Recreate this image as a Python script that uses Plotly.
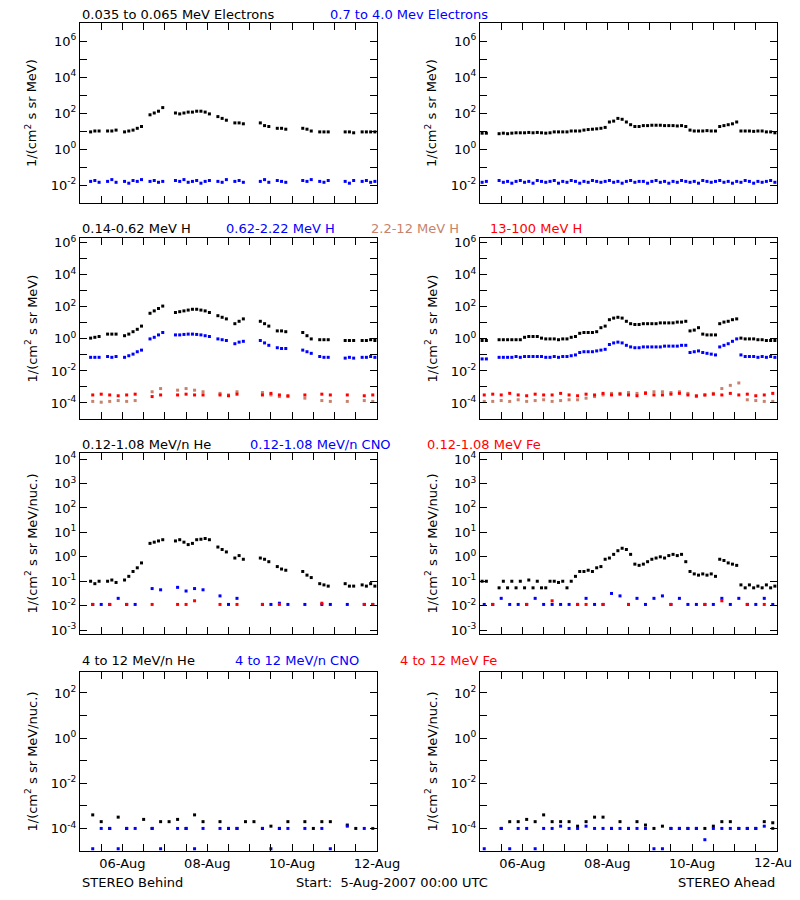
import plotly.graph_objects as go

N = None
# ---- data: log10 flux values; time grid 0.1 day (fine) or 0.2 day (coarse), days since 5-Aug-2007 00:00
# Row 1 electrons
L1_k = [N,N,0.95,1.0,1.0,N,1.0,1.0,1.05,N,
        0.95,1.0,1.05,1.15,1.25,N,1.9,2.0,2.1,2.3,
        N,N,2.0,1.95,2.0,2.05,2.05,2.1,2.1,2.05,
        1.95,N,1.8,1.7,1.6,N,1.45,1.45,1.4,N,
        N,N,1.45,1.3,1.25,N,1.15,1.15,1.1,N,
        N,N,1.15,1.1,1.0,N,0.95,0.95,0.95,N,
        N,N,0.95,0.95,0.9,N,0.95,0.95,0.95,0.95]
L1_b = [N,N,-1.8,-1.75,-1.85,N,-1.8,-1.7,-1.85,N,
        -1.8,-1.9,-1.75,-1.8,-1.7,N,-1.8,-1.75,-1.85,-1.8,
        N,N,-1.75,-1.8,-1.7,-1.85,-1.8,-1.75,-1.9,-1.8,
        -1.75,N,-1.8,-1.85,-1.7,N,-1.8,-1.75,-1.85,N,
        N,N,-1.8,-1.7,-1.85,N,-1.75,-1.8,-1.85,N,
        N,N,-1.75,-1.8,-1.7,N,-1.8,-1.85,-1.75,N,
        N,N,-1.8,-1.9,-1.75,N,-1.8,-1.75,-1.85,-1.8]
R1_k = [.88,.88,N,N,.85,.88,.85,.88,.9,.9,
        .9,.92,.9,.92,.9,.88,.9,.95,.95,.95,
        .95,1.0,1.0,1.0,1.05,1.08,1.1,1.12,1.15,1.2,
        1.5,1.55,1.7,1.65,1.5,1.35,1.25,1.25,1.3,1.3,
        1.32,1.32,1.32,1.3,1.3,1.3,1.28,1.3,1.25,1.05,
        1.0,1.0,1.0,1.02,1.0,1.0,1.25,1.3,1.35,1.4,
        1.5,1.0,1.0,1.0,0.98,1.0,1.0,0.95,0.95,0.9]
R1_b = [-1.85,-1.8,N,N,-1.75,-1.85,-1.8,-1.9,-1.8,-1.75,
        -1.85,-1.8,-1.9,-1.75,-1.8,-1.85,-1.8,-1.75,-1.9,-1.8,
        -1.85,-1.75,-1.8,-1.9,-1.8,-1.85,-1.75,-1.8,-1.85,-1.8,
        -1.75,-1.85,-1.8,-1.9,-1.8,-1.75,-1.85,-1.8,-1.8,-1.9,
        -1.8,-1.75,-1.85,-1.8,-1.9,-1.8,-1.85,-1.75,-1.8,-1.85,
        -1.8,-1.9,-1.75,-1.8,-1.85,-1.8,-1.75,-1.85,-1.8,-1.9,
        -1.8,-1.85,-1.75,-1.8,-1.9,-1.8,-1.85,-1.8,-1.75,-1.85]
# Row 2 protons
L2_k = [N,N,0.05,0.1,0.15,N,0.3,0.3,0.3,N,
        0.2,0.3,0.45,0.6,0.8,N,1.6,1.75,1.9,2.05,
        N,N,1.65,1.7,1.75,1.8,1.85,1.85,1.8,1.75,
        1.65,N,1.45,1.35,1.25,N,0.95,1.1,1.25,N,
        N,N,1.1,0.95,0.8,N,0.5,0.5,0.45,N,
        N,N,0.4,0.2,0.0,N,-0.05,-0.05,-0.05,N,
        N,N,-0.1,-0.1,-0.1,N,-0.1,-0.1,-0.05,-0.1]
L2_b = [N,N,-1.15,-1.15,-1.15,N,-1.1,-1.15,-1.1,N,
        -1.15,-1.05,-0.95,-0.8,-0.7,N,0.0,0.1,0.25,0.4,
        N,N,0.25,0.25,0.28,0.3,0.3,0.28,0.25,0.2,
        0.15,N,0.0,-0.05,-0.1,N,-0.3,-0.2,-0.15,N,
        N,N,-0.1,-0.25,-0.4,N,-0.55,-0.6,-0.6,N,
        N,N,-0.7,-0.8,-0.9,N,-1.1,-1.15,-1.15,N,
        N,N,-1.2,-1.15,-1.2,N,-1.15,-1.15,-1.1,-1.15]
R2_k = [-0.1,-0.1,N,N,-0.05,-0.05,-0.05,-0.05,-0.05,-0.05,
        0.1,0.15,0.15,0.15,0.05,0.0,0.0,0.0,-0.05,0.0,
        0.0,0.1,0.15,0.35,0.4,0.4,0.4,0.45,0.7,0.8,
        1.2,1.3,1.35,1.3,1.1,0.95,0.9,0.9,0.95,0.95,
        0.95,0.95,1.0,1.0,1.0,1.0,1.05,1.05,1.1,0.5,
        0.55,0.7,0.3,0.25,0.25,0.25,0.95,1.05,1.1,1.2,
        1.25,0.05,0.0,0.0,0.0,-0.05,-0.05,-0.1,-0.1,-0.1]
R2_b = [-1.25,-1.25,N,N,-1.15,-1.15,-1.15,-1.15,-1.1,-1.15,
        -1.1,-1.1,-1.1,-1.1,-1.1,-1.15,-1.15,-1.1,-1.15,-1.1,
        -1.1,-1.05,-1.0,-0.85,-0.8,-0.8,-0.8,-0.75,-0.7,-0.65,
        -0.35,-0.25,-0.2,-0.25,-0.4,-0.5,-0.55,-0.55,-0.5,-0.5,
        -0.5,-0.5,-0.5,-0.45,-0.45,-0.45,-0.45,-0.4,-0.4,-0.85,
        -0.8,-0.75,-0.85,-0.9,-0.95,-1.0,-0.5,-0.4,-0.3,-0.15,
        0.0,-1.0,-1.1,-1.1,-1.1,-1.15,-1.1,-1.15,-1.1,-1.15]
L2_t = [N,-3.9,-3.95,-3.9,-3.85,-3.9,-3.85,N,-3.3,-3.1,N,-3.2,-3.1,-3.2,-3.3,N,-3.4,-3.5,
        -3.3,N,N,-3.35,-3.5,-3.6,-3.6,N,-3.7,N,-3.85,-3.9,N,-3.9,N,-3.85,-3.9]
L2_r = [N,-3.5,-3.45,-3.5,-3.55,-3.5,-3.45,N,-3.6,-3.5,N,-3.5,-3.45,-3.5,-3.5,N,-3.5,-3.55,
        -3.45,N,N,-3.5,-3.4,-3.5,-3.55,N,-3.5,N,-3.45,-3.5,N,-3.5,N,-3.55,-3.5]
R2_t = [-3.9,-3.9,-3.85,-3.9,-3.8,-3.9,-3.85,-3.8,-3.9,-3.85,-3.8,-3.8,-3.7,-3.6,-3.5,-3.4,-3.4,
        -3.35,-3.4,-3.35,-3.3,-3.3,-3.35,-3.3,-3.4,-3.6,-3.5,-3.4,-3.1,-2.9,-2.75,-3.8,-3.85,-3.9,-3.9]
R2_r = [-3.5,-3.45,-3.5,-3.4,-3.5,-3.55,-3.45,-3.5,-3.5,-3.4,-3.5,-3.55,-3.45,-3.5,-3.4,-3.5,-3.45,
        -3.5,-3.55,-3.4,-3.5,-3.5,-3.45,-3.4,-3.5,-3.55,-3.5,-3.45,-3.5,-3.4,-3.5,-3.45,-3.55,-3.5,-3.4]
# Row 3 heavy ions, 0.12-1.08 MeV/n
L3_k = [N,N,-1.0,-1.1,-1.0,N,-1.0,-0.95,-1.05,N,
        -0.95,-0.8,-0.6,-0.45,-0.25,N,0.55,0.6,0.65,0.7,
        N,N,0.65,0.7,0.6,0.5,0.55,0.7,0.72,0.75,
        0.7,N,0.4,0.3,0.2,N,-0.05,0.05,-0.1,N,
        N,N,-0.05,-0.1,-0.2,N,-0.4,-0.5,-0.55,N,
        N,N,-0.6,-0.75,-0.85,N,-1.1,-1.15,-1.2,N,
        N,N,-1.1,-1.2,-1.2,N,-1.15,-1.2,-1.1,-1.2]
L3_b = [N,-1.95,-1.95,-1.95,-1.7,-1.95,-1.95,N,-1.3,-1.35,N,-1.25,-1.4,-1.3,-1.35,N,-1.6,-1.95,
        -1.7,N,N,-1.95,-1.95,-1.9,-1.95,N,-1.95,N,-1.95,-1.95,N,-1.95,N,-1.95,-1.95]
L3_r = [N,-1.95,N,-1.95,N,-1.95,N,N,-1.95,N,N,-1.95,-1.95,-1.8,N,N,-1.95,N,-1.95,N,N,-1.95,N,
        -1.95,N,N,N,N,-1.9,N,N,N,N,-1.95,-1.95]
R3_k = [-1.0,-1.0,N,N,-1.27,-1.0,-1.27,-1.0,-1.27,-1.0,
        -1.27,-0.95,-1.27,-1.0,-1.27,-1.27,-1.0,-1.0,-1.05,-1.0,
        -1.27,-1.0,-0.8,-0.6,-0.6,-0.55,-0.6,-0.45,-0.4,-0.1,
        -0.05,0.1,0.25,0.35,0.3,0.1,-0.3,-0.35,-0.3,-0.2,
        -0.1,-0.05,0.0,-0.05,0.05,0.1,0.05,0.1,-0.2,-0.6,
        -0.7,-0.75,-0.7,-0.75,-0.7,-0.8,-0.1,-0.15,-0.25,-0.3,
        -0.35,-1.15,-1.27,-1.15,-1.27,-1.2,-1.27,-1.15,-1.27,-1.2]
R3_b = [-1.95,-1.95,-1.7,-1.95,-1.95,-1.95,-1.7,-1.95,-1.95,-1.95,-1.95,-1.95,-1.7,-1.95,-1.95,
        -1.5,-1.6,-1.95,-1.7,-1.95,-1.7,-1.6,-1.95,-1.7,-1.95,-1.95,-1.95,-1.95,-1.7,-1.95,-1.7,
        -1.95,-1.95,-1.7,-1.95]
R3_r = [N,-1.95,N,N,N,-1.95,N,N,-1.8,N,N,-1.95,-1.95,N,-1.95,N,N,-1.95,N,N,N,N,-1.95,N,N,N,
        -1.95,N,-1.8,N,N,-1.95,N,-1.95,N]
# Row 4, 4-12 MeV/n
L4_k = [N,-3.4,-3.7,-4.0,-3.5,-4.0,N,-3.6,-4.0,-3.7,-3.7,-3.6,-4.0,-3.4,-3.7,N,-3.7,-4.0,-4.0,
        -3.7,-3.7,-4.0,-3.9,-4.0,-3.7,N,-3.7,-4.0,-3.7,-3.7,N,-3.85,-4.0,N,N]
L4_b = [N,-4.9,-4.0,-4.0,-4.9,-4.0,-4.0,N,-4.0,-4.9,N,-4.0,-4.0,-4.9,-4.0,N,-4.0,-4.0,-4.0,N,N,
        -4.0,-4.9,-4.0,-4.0,N,-4.0,N,-4.0,-4.9,N,-3.9,N,-4.0,-4.0]
R4_k = [N,N,-4.0,-3.7,-3.7,-3.6,-3.7,-3.4,-3.7,-3.7,-3.7,-3.9,-3.7,-3.5,-3.5,-4.0,-3.7,-4.0,
        -3.7,-3.85,-4.0,-3.9,-4.0,-4.0,-4.0,-4.0,-4.0,-3.9,-3.7,-3.7,-4.0,-4.0,-4.0,-3.7,-3.75]
R4_b = [-4.9,N,-4.0,-4.9,-4.0,-4.0,-4.9,-4.0,-4.0,-3.9,-4.0,-4.0,-3.9,-4.0,-4.0,-4.0,-4.0,-4.0,
        -4.0,-4.0,-4.9,-4.9,-4.0,-4.0,-4.0,-4.0,-4.5,-4.0,-4.0,-4.0,-4.0,-4.0,-4.0,-3.9,-4.0]

X_TICKS = [1, 3, 5, 7]
X_LABELS = ["06-Aug", "08-Aug", "10-Aug", "12-Aug"]

BLUE, TAN, RED, BLK = "#0000ff", "#c8826c", "#ff0000", "#000000"
OFF = 8                      # page body margin of the html page
W, H = 800 - 2 * OFF, 900 - 2 * OFF
FONT = "DejaVu Sans"

def px(v):
    return v - OFF

fig = go.Figure()

rows = [  # (y top px, y bottom px, log range, label every decade?)
    (23, 203, [-3, 7], False),
    (238, 419, [-5, 6.3], False),
    (453, 634, [-3.16, 4.25], True),
    (672, 851, [-5, 2.93], False),
]
cols = [(80, 377), (480, 777)]

series = [
    (0, 0, L1_k, 0.1, BLK), (0, 0, L1_b, 0.1, BLUE),
    (0, 1, R1_k, 0.1, BLK), (0, 1, R1_b, 0.1, BLUE),
    (1, 0, L2_t, 0.2, TAN), (1, 0, L2_r, 0.2, RED), (1, 0, L2_k, 0.1, BLK), (1, 0, L2_b, 0.1, BLUE),
    (1, 1, R2_t, 0.2, TAN), (1, 1, R2_r, 0.2, RED), (1, 1, R2_k, 0.1, BLK), (1, 1, R2_b, 0.1, BLUE),
    (2, 0, L3_k, 0.1, BLK), (2, 0, L3_b, 0.2, BLUE), (2, 0, L3_r, 0.2, RED),
    (2, 1, R3_k, 0.1, BLK), (2, 1, R3_b, 0.2, BLUE), (2, 1, R3_r, 0.2, RED),
    (3, 0, L4_k, 0.2, BLK), (3, 0, L4_b, 0.2, BLUE),
    (3, 1, R4_k, 0.2, BLK), (3, 1, R4_b, 0.2, BLUE),
]

def axname(r, c):
    n = r * 2 + c + 1
    return ("x" if n == 1 else f"x{n}"), ("y" if n == 1 else f"y{n}")

for r, c, vals, step, col in series:
    xa, ya = axname(r, c)
    xs = [step / 2 + step * i for i in range(len(vals))]
    ys = [None if v is None else 10 ** v for v in vals]
    fig.add_trace(go.Scatter(x=xs, y=ys, mode="markers", xaxis=xa, yaxis=ya,
                             marker=dict(symbol="square", size=3, color=col, line=dict(width=0)),
                             showlegend=False, hoverinfo="skip"))

def sup(n):
    return f"10<sup>{n}</sup>"

for r, (yt, yb, rng, every) in enumerate(rows):
    for c, (xl, xr) in enumerate(cols):
        n = r * 2 + c + 1
        sfx = "" if n == 1 else str(n)
        lo, hi = int(rng[0]) - 1, int(rng[1]) + 1
        dec = [d for d in range(lo, hi + 1) if rng[0] <= d <= rng[1]]
        common = dict(showgrid=False, zeroline=False, showline=True, linecolor="black",
                      linewidth=1, mirror="ticks", ticks="inside", ticklen=7, automargin=False,
                      tickcolor="black", tickfont=dict(family=FONT, size=13, color="black"))
        fig.layout["xaxis" + sfx] = dict(
            domain=[px(xl) / W, px(xr) / W], range=[0, 7], anchor="y" + sfx,
            tickvals=[i * 0.5 for i in range(15)],
            ticktext=[(X_LABELS[X_TICKS.index(int(i * 0.5))] if (r == 3 and i % 2 == 0 and int(i * 0.5) in X_TICKS) else "") for i in range(15)],
            **common)
        fig.layout["yaxis" + sfx] = dict(
            domain=[1 - px(yb) / H, 1 - px(yt) / H], type="log", range=rng, anchor="x" + sfx,
            tickvals=[10 ** d for d in dec],
            ticktext=[sup(d) if (every or d % 2 == 0) else "" for d in dec],
            **common)

ann = []
def txt(x, y, s, color="black", size=13, xanchor="left"):
    ann.append(dict(x=px(x) / W, y=1 - px(y) / H, xref="paper", yref="paper", text=s, showarrow=False,
                    font=dict(family=FONT, size=size, color=color), xanchor=xanchor,
                    yanchor="middle"))

titles = [
    (15, [(80, "0.035 to 0.065 MeV Electrons", BLK), (328, "0.7 to 4.0 Mev Electrons", BLUE)]),
    (228, [(80, "0.14-0.62 MeV H", BLK), (224, "0.62-2.22 MeV H", BLUE), (369, "2.2-12 MeV H", TAN), (488, "13-100 MeV H", RED)]),
    (444, [(80, "0.12-1.08 MeV/n He", BLK), (248, "0.12-1.08 MeV/n CNO", BLUE), (425, "0.12-1.08 MeV Fe", RED)]),
    (660, [(80, "4 to 12 MeV/n He", BLK), (233, "4 to 12 MeV/n CNO", BLUE), (398, "4 to 12 MeV Fe", RED)]),
]
for y, items in titles:
    for x, s, col in items:
        txt(x, y, s, col)

ylabs = ["1/(cm<sup>2</sup> s sr MeV)"] * 2 + ["1/(cm<sup>2</sup> s sr MeV/nuc.)"] * 2
for (yt, yb, _, _), lab in zip(rows, ylabs):
    for xp in (31, 431):
        ann.append(dict(x=px(xp) / W, y=1 - px((yt + yb) / 2) / H, xref="paper", yref="paper", text=lab,
                        showarrow=False, textangle=-90, xanchor="center", yanchor="middle",
                        font=dict(family=FONT, size=13, color="black")))

# right-panel last date label, which runs past the page edge
txt(777, 862, X_LABELS[-1], xanchor="center")
txt(80, 882, "STEREO Behind")
txt(294, 882, "Start:  5-Aug-2007 00:00 UTC")
txt(777, 882, "STEREO Ahead", xanchor="right")

fig.update_layout(width=W, height=H, margin=dict(l=0, r=0, t=0, b=0, autoexpand=False),
                  paper_bgcolor="white", plot_bgcolor="white", annotations=ann,
                  font=dict(family=FONT))
fig.write_html("out.html")
